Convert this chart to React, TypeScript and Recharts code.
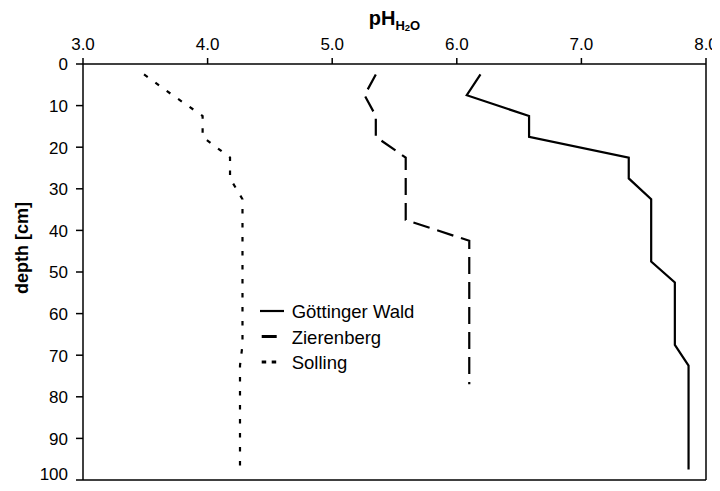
import React from 'react';
import { ScatterChart, Scatter, XAxis, YAxis, ReferenceLine, Legend } from 'recharts';

// pH ticks (x axis, top) and depth ticks (y axis, reversed)
const phTicks = [3, 4, 5, 6, 7, 8];
const depthTicks = [0, 10, 20, 30, 40, 50, 60, 70, 80, 90, 100];

// Göttinger Wald
const gwDepth = [2.5, 7.5, 12.5, 17.5, 22.5, 27.5, 32.5, 47.5, 52.5, 67.5, 72.5, 97.5];
const gwPh = [6.19, 6.08, 6.58, 6.58, 7.38, 7.38, 7.56, 7.56, 7.75, 7.75, 7.86, 7.86];

// Zierenberg
const ziDepth = [2.5, 7.5, 12.5, 17.5, 22.5, 37.5, 42.5, 77];
const ziPh = [5.35, 5.26, 5.35, 5.35, 5.59, 5.59, 6.1, 6.1];

// Solling
const soDepth = [2.5, 7.5, 12.5, 17.5, 22.5, 27.5, 32.5, 67.5, 72.5, 97.5];
const soPh = [3.49, 3.72, 3.96, 3.96, 4.18, 4.18, 4.28, 4.28, 4.26, 4.26];

const seriesNames = ['Göttinger Wald', 'Zierenberg', 'Solling'];

const toRows = (ph: number[], depth: number[]) => ph.map((p, i) => ({ ph: p, depth: depth[i] }));

const FONT = '"Liberation Sans", Arial, Helvetica, sans-serif';
const TICK_FS = 17;
const LEGEND_FS = 18.5;

const series = [
  { name: seriesNames[0], data: toRows(gwPh, gwDepth), dash: undefined as string | undefined, icon: { x1: 1, x2: 25, w: 2.2, dash: undefined as string | undefined } },
  { name: seriesNames[1], data: toRows(ziPh, ziDepth), dash: '17 8', icon: { x1: 2.7, x2: 17.7, w: 3, dash: undefined } },
  { name: seriesNames[2], data: toRows(soPh, soDepth), dash: '4.5 9.5', icon: { x1: 2.7, x2: 17.5, w: 3, dash: '4.5 5.5' } },
];

const XTick = (props: any) => {
  const { x, y, payload } = props;
  return (
    <text x={x} y={y} textAnchor="middle" fontFamily={FONT} fontSize={TICK_FS} fill="#000">
      {Number(payload.value).toFixed(1)}
    </text>
  );
};

const YTick = (props: any) => {
  const { x, y, payload } = props;
  return (
    <text x={x} y={y + 6.3} textAnchor="end" fontFamily={FONT} fontSize={TICK_FS} fill="#000">
      {payload.value}
    </text>
  );
};

const XTitle = (props: any) => {
  const vb = props.viewBox || { x: 0, y: 0, width: 0, height: 0 };
  const cx = vb.x + vb.width / 2;
  return (
    <text x={cx} y={17} textAnchor="middle" fontFamily={FONT} fontWeight="bold" fill="#000">
      <tspan fontSize={20}>pH</tspan>
      <tspan fontSize={13} dy={5}>H</tspan>
      <tspan fontSize={9.5} dy={1}>2</tspan>
      <tspan fontSize={13} dy={-1}>O</tspan>
    </text>
  );
};

const YTitle = (props: any) => {
  const vb = props.viewBox || { x: 0, y: 0, width: 0, height: 0 };
  const cx = 14;
  const cy = vb.y + vb.height / 2 - 24;
  return (
    <text
      x={cx}
      y={cy}
      transform={`rotate(-90 ${cx} ${cy})`}
      textAnchor="middle"
      dominantBaseline="central"
      fontFamily={FONT}
      fontWeight="bold"
      fontSize={18}
      fill="#000"
    >
      depth [cm]
    </text>
  );
};

const renderLegend = () => (
  <svg width={190} height={80} style={{ overflow: 'visible' }}>
    {series.map((s, i) => {
      const base = 20 + i * 25.5;
      return (
        <g key={s.name}>
          <line
            x1={s.icon.x1}
            x2={s.icon.x2}
            y1={base - 7}
            y2={base - 7}
            stroke="#000"
            strokeWidth={s.icon.w}
            strokeDasharray={s.icon.dash}
          />
          <text x={32.7} y={base} fontFamily={FONT} fontSize={LEGEND_FS} fill="#000">
            {s.name}
          </text>
        </g>
      );
    })}
  </svg>
);

export default function App() {
  return (
    <div style={{ width: 712, height: 475, fontFamily: FONT }}>
      <ScatterChart width={712} height={475} margin={{ top: 0, right: 14, bottom: 3, left: 0 }}>
        <XAxis
          type="number"
          dataKey="ph"
          orientation="top"
          domain={[3, 8]}
          ticks={phTicks}
          allowDataOverflow
          height={56}
          axisLine={{ stroke: '#000', strokeWidth: 1.5 }}
          tickLine={{ stroke: '#000', strokeWidth: 1.5 }}
          tickSize={6}
          tickMargin={8}
          tick={<XTick />}
          label={<XTitle />}
        />
        <YAxis
          type="number"
          dataKey="depth"
          domain={[0, 100]}
          ticks={depthTicks}
          reversed
          allowDataOverflow
          width={75}
          axisLine={{ stroke: '#000', strokeWidth: 1.5 }}
          tickLine={{ stroke: '#000', strokeWidth: 1.5 }}
          tickSize={7}
          tickMargin={8}
          tick={<YTick />}
          label={<YTitle />}
        />
        <ReferenceLine x={8} stroke="#000" strokeWidth={1.5} />
        <ReferenceLine y={100} stroke="#000" strokeWidth={1.5} />
        {series.map((s) => (
          <Scatter
            key={s.name}
            name={s.name}
            data={s.data}
            fill="#000"
            isAnimationActive={false}
            shape={() => <g />}
            line={{ stroke: '#000', strokeWidth: 2.2, strokeDasharray: s.dash }}
            lineType="joint"
          />
        ))}
        <Legend
          layout="vertical"
          align="center"
          verticalAlign="middle"
          wrapperStyle={{ position: 'absolute', left: 251, top: 290, width: 190, height: 80 }}
          content={renderLegend}
        />
      </ScatterChart>
    </div>
  );
}
